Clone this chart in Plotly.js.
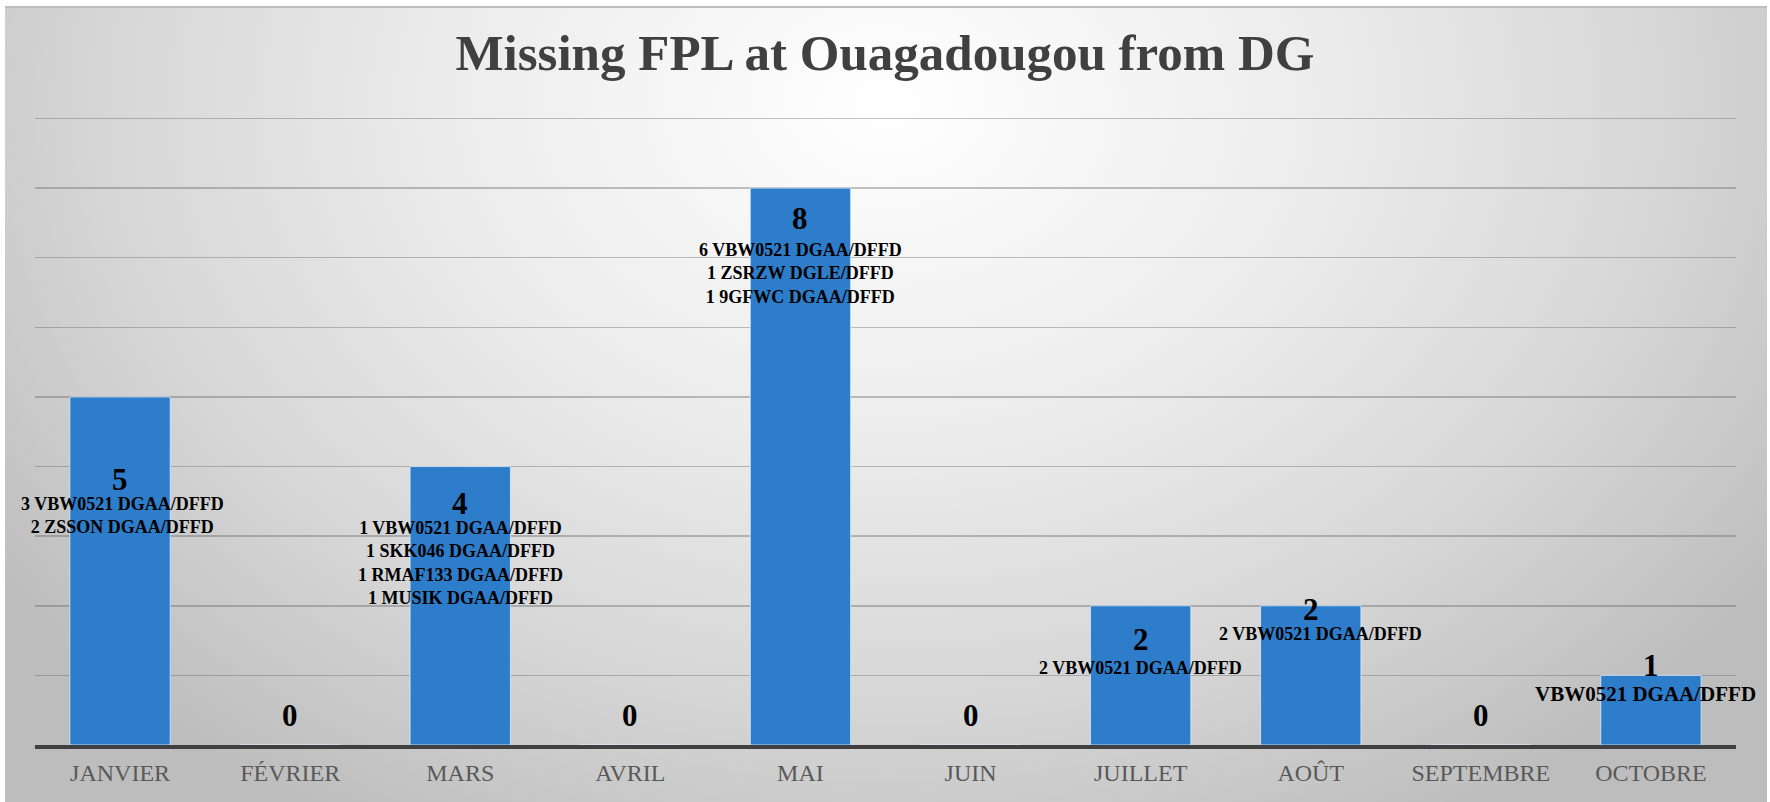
<!DOCTYPE html>
<html>
<head>
<meta charset="utf-8">
<script src="https://cdn.plot.ly/plotly-3.0.1.min.js"></script>
<style>
  html, body { margin: 0; padding: 0; background: #ffffff; }
  #wrap { position: relative; width: 1770px; height: 802px; overflow: hidden; }
  #bg { position: absolute; left: 5px; top: 6px; width: 1762px; height: 796px;
        border-top: 2px solid #bdbdbd; box-sizing: border-box;
        background: radial-gradient(ellipse 62% 105% at 50% 12%, #ffffff 0%, #ececec 40%, #d6d6d6 72%, #bdbdbd 100%); }
  #chart { position: absolute; left: 0; top: 0; width: 1770px; height: 802px; }
</style>
</head>
<body>
<div id="wrap"><div id="bg"></div><div id="chart"></div></div>
<script>
// ---- data ----
const months = ["JANVIER", "FÉVRIER", "MARS", "AVRIL", "MAI", "JUIN", "JUILLET", "AOÛT", "SEPTEMBRE", "OCTOBRE"];
const counts = [5, 0, 4, 0, 8, 0, 2, 2, 0, 1];
const details = [
  "3 VBW0521 DGAA/DFFD<br>2 ZSSON DGAA/DFFD",
  "",
  "1 VBW0521 DGAA/DFFD<br>1 SKK046 DGAA/DFFD<br>1 RMAF133 DGAA/DFFD<br>1 MUSIK DGAA/DFFD",
  "",
  "6 VBW0521 DGAA/DFFD<br>1 ZSRZW DGLE/DFFD<br>1 9GFWC DGAA/DFFD",
  "",
  "2 VBW0521 DGAA/DFFD",
  "2 VBW0521 DGAA/DFFD",
  "",
  "VBW0521 DGAA/DFFD"
];
const chartTitle = "Missing FPL at Ouagadougou from DG";
const gridValues = [1, 2, 3, 4, 5, 6, 7, 8, 9];

// ---- label placement (as moved by hand in the original) ----
const numLabelY   = [3.81, 0.42, 3.47, 0.42, 7.56, 0.42, 1.51, 1.95, 0.42, 1.14];
const detailY     = [3.29, null, 2.61, null, 6.78, null, 1.10, 1.59, null, 0.73];
const detailShift = [2, 0, 0, 0, 0, 0, 0, 10, 0, -5];
const detailSize  = [18, 18, 18, 18, 18, 18, 18, 18, 18, 21];

const serif = "'Liberation Serif', 'DejaVu Serif', serif";
const annotations = [];
months.forEach((m, i) => {
  annotations.push({
    x: m, y: numLabelY[i], xref: "x", yref: "y",
    text: "<b>" + counts[i] + "</b>", showarrow: false,
    font: {family: serif, size: 31, color: "#000000"},
    xanchor: "center", yanchor: "middle"
  });
  if (details[i]) {
    annotations.push({
      x: m, y: detailY[i], xref: "x", yref: "y", xshift: detailShift[i],
      text: "<b>" + details[i] + "</b>", showarrow: false,
      font: {family: serif, size: detailSize[i], color: "#000000"},
      xanchor: "center", yanchor: "middle", align: "center"
    });
  }
});

const trace = {
  type: "bar",
  x: months,
  y: counts,
  marker: {color: "#2E7DCA", line: {color: "rgba(220,235,250,0.8)", width: 1}},
  hoverinfo: "x+y"
};

const layout = {
  width: 1770, height: 802,
  margin: {l: 35, r: 34, t: 115, b: 57, pad: 0},
  paper_bgcolor: "rgba(0,0,0,0)",
  plot_bgcolor: "rgba(0,0,0,0)",
  bargap: 0.41,
  showlegend: false,
  title: {
    text: "<b>" + chartTitle + "</b>",
    font: {family: serif, size: 51, color: "#404040"},
    x: 0.5, xref: "container", xanchor: "center",
    y: 1 - 52 / 802, yref: "container", yanchor: "middle"
  },
  xaxis: {
    type: "category", range: [-0.5, 9.5], autorange: false,
    showline: true, linecolor: "#404040", linewidth: 4,
    showgrid: false, ticks: "", ticklabelstandoff: 3,
    tickfont: {family: serif, size: 24, color: "#595959"}
  },
  yaxis: {
    range: [0, 9.05], autorange: false, tickvals: gridValues, showticklabels: false,
    showgrid: true, gridcolor: "rgba(95,95,95,0.38)", gridwidth: 1.5,
    zeroline: false, showline: false
  },
  annotations: annotations
};

Plotly.newPlot("chart", [trace], layout, {displayModeBar: false, staticPlot: true});
</script>
</body>
</html>
